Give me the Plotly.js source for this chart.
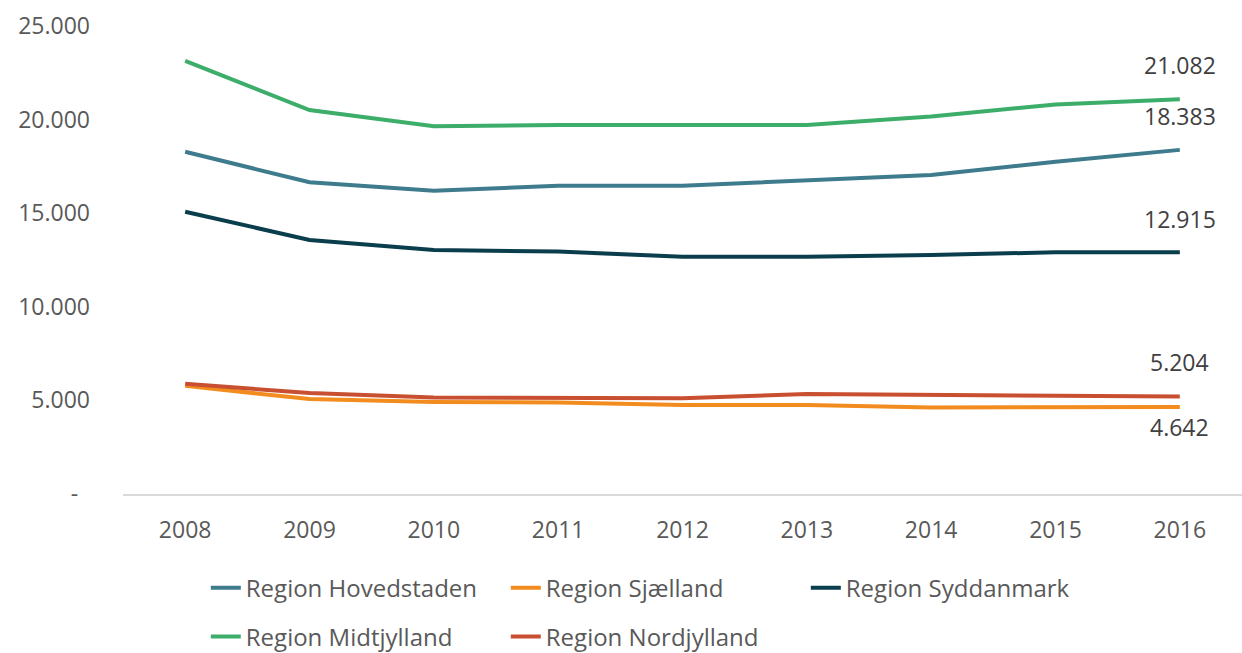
<!DOCTYPE html>
<html>
<head>
<meta charset="utf-8">
<script src="https://cdn.plot.ly/plotly-3.0.1.min.js"></script>
<style>html,body{margin:0;padding:0;background:#fff;}#chart{width:1242px;height:653px;}#err{position:absolute;left:300px;top:5px;color:red;font:12px sans-serif;}</style>
</head>
<body>
<div id="chart"></div>
<div id="err"></div>
<script>
window.onerror = function(m){ document.getElementById('err').textContent += ' ' + m; };
const years = ['2008','2009','2010','2011','2012','2013','2014','2015','2016'];
const hovedstaden = [18280, 16650, 16200, 16470, 16470, 16770, 17040, 17750, 18383];
const sjaelland   = [5780, 5070, 4910, 4890, 4750, 4750, 4620, 4640, 4642];
const syddanmark  = [15080, 13570, 13040, 12950, 12680, 12680, 12770, 12910, 12915];
const midtjylland = [23140, 20510, 19650, 19710, 19710, 19710, 20160, 20810, 21082];
const nordjylland = [5890, 5390, 5150, 5120, 5120, 5340, 5300, 5250, 5204];
const yTickVals = [0, 5000, 10000, 15000, 20000, 25000];
const yTickText = ['-\u00a0\u00a0', '5.000', '10.000', '15.000', '20.000', '25.000'];

function fmt(v){ return String(Math.round(v)).replace(/\B(?=(\d{3})+(?!\d))/g, '.'); }

const font = "Open Sans, sans-serif";
const txtColor = '#595959';
const series = [
  {name:'Region Hovedstaden', y:hovedstaden, color:'#3D7B8D', legend:'legend', shift:34},
  {name:'Region Sjælland', y:sjaelland, color:'#F28C1E', legend:'legend', shift:-20},
  {name:'Region Syddanmark', y:syddanmark, color:'#0B3E4C', legend:'legend', shift:33},
  {name:'Region Midtjylland', y:midtjylland, color:'#3DAD6A', legend:'legend2', shift:34},
  {name:'Region Nordjylland', y:nordjylland, color:'#C84F2F', legend:'legend2', shift:35}
];

const data = series.map(s => ({
  type:'scatter', mode:'lines', x:years, y:s.y, name:s.name, legend:s.legend,
  line:{color:s.color, width:4}
}));

const last = years.length - 1;
const annotations = series.map(s => ({
  x: last, y: s.y[last], xref:'x', yref:'y',
  text: fmt(s.y[last]), showarrow:false, yshift:s.shift,
  xanchor:'center', yanchor:'middle',
  font:{family:font, size:23, color:'#404040'}
}));

const layout = {
  width:1242, height:653,
  margin:{l:123, r:0, t:26, b:159},
  paper_bgcolor:'#fff', plot_bgcolor:'#fff',
  font:{family:font, size:23, color:txtColor},
  xaxis:{type:'category', range:[-0.5, 8.5], showgrid:false, zeroline:false,
    showline:true, linecolor:'#d9d9d9', linewidth:2, ticks:'',
    tickfont:{family:font, size:23, color:txtColor}, ticklabelstandoff:14},
  yaxis:{range:[0,25000], tickvals:yTickVals, ticktext:yTickText, showgrid:false,
    zeroline:false, showline:false, ticks:'', ticklabelstandoff:32,
    tickfont:{family:font, size:23, color:txtColor}},
  legend:{orientation:'h', x:0.074, xanchor:'left', yref:'container', y:0.0995, yanchor:'middle',
    entrywidth:255, font:{family:font, size:24, color:txtColor}, bgcolor:'rgba(0,0,0,0)'},
  legend2:{orientation:'h', x:0.074, xanchor:'left', yref:'container', y:0.0245, yanchor:'middle',
    entrywidth:255, font:{family:font, size:24, color:txtColor}, bgcolor:'rgba(0,0,0,0)'},
  annotations:annotations,
  showlegend:true
};

Plotly.newPlot('chart', data, layout, {displayModeBar:false}).catch(e => {
  document.getElementById('err').textContent += ' ' + e;
});
</script>
</body>
</html>
